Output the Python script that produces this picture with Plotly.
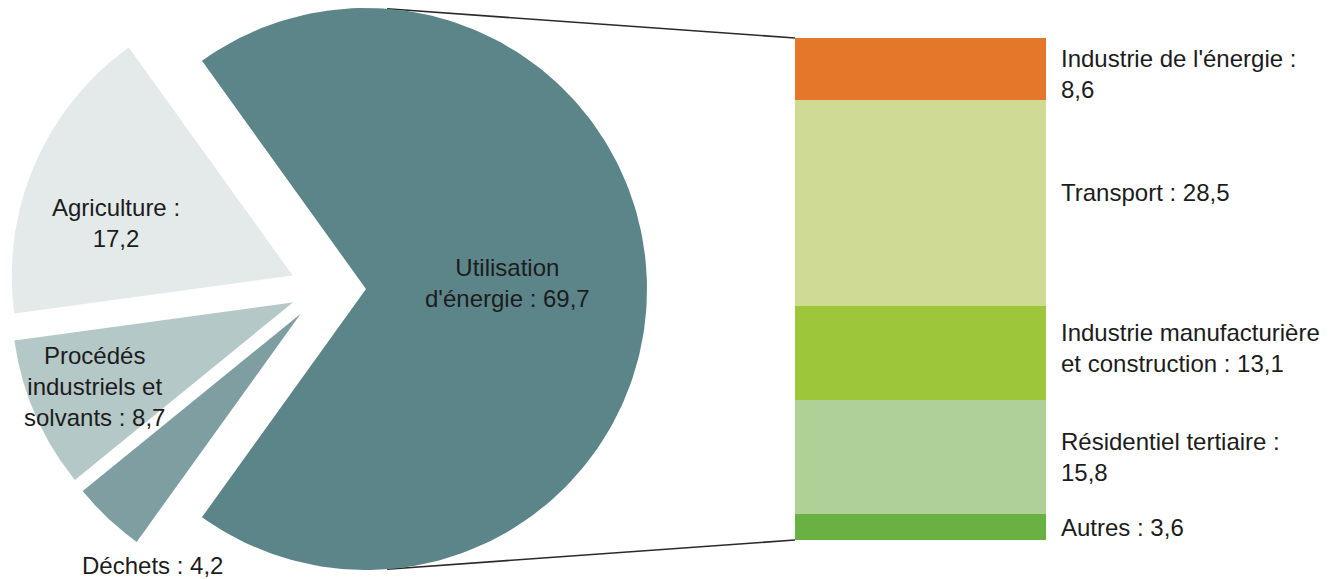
import numpy as np
import plotly.graph_objects as go

# ---------------- data ----------------
pie_categories = ["Utilisation d'énergie", "Agriculture",
                  "Procédés industriels et solvants", "Déchets"]
pie_values = [69.7, 17.2, 8.7, 4.2]

bar_categories = ["Industrie de l'énergie", "Transport",
                  "Industrie manufacturière et construction",
                  "Résidentiel tertiaire", "Autres"]
bar_values = [8.6, 28.5, 13.1, 15.8, 3.6]

# ---------------- styles / layout ----------------
pie_colors = ["#5c858a", "#e4eaea", "#b4c8c7", "#7e9ea2"]
bar_colors = ["#e5772a", "#cfdb95", "#9dc63a", "#afd096", "#69b142"]

pie_label_fmt = ["Utilisation<br>d'énergie : {}", "Agriculture :<br>{}",
                 "Procédés<br>industriels et<br>solvants : {}", "Déchets : {}"]
pie_label_pos = [(507, 283), (116, 223), (94, 386), (152, 565)]

bar_label_fmt = ["Industrie de l'énergie :<br>{}", "Transport : {}",
                 "Industrie manufacturière<br>et construction : {}",
                 "Résidentiel tertiaire :<br>{}", "Autres : {}"]
bar_label_yshift = [-5, 10, 5, 0, 0]

W, H = 1331, 579
CX, CY, R = 366, 289, 281          # pie centre / radius (px)
GROUP_SHIFT = 42                   # shift of the small-slice group (px)
EXPLODE = 34                       # explosion of each small slice (px)
BAR_LEFT, BAR_RIGHT, BAR_TOP, BAR_BOTTOM = 795, 1046, 38, 540
CONNECTOR_ANGLE = 85.7
FONT = "Liberation Sans, Arial, sans-serif"
TEXT_COLOR = "#1c1c1c"
FONT_SIZE = 24


def fmt(v):
    return f"{v:.1f}".replace(".", ",")


def pdir(deg):
    t = np.radians(deg)
    return np.cos(t), -np.sin(t)   # screen coordinates (y down)


fig = go.Figure()

# ---------------- connector lines ----------------
bar_total = sum(bar_values)
for sgn, by in ((1, BAR_TOP), (-1, BAR_BOTTOM)):
    dx, dy = pdir(sgn * CONNECTOR_ANGLE)
    fig.add_trace(go.Scatter(
        x=[CX + R * dx, BAR_LEFT], y=[CY + R * dy, by], mode="lines",
        line=dict(color="#2a2a2a", width=1.6), hoverinfo="skip",
        xaxis="x", yaxis="y"))

# ---------------- exploded pie (wedges computed from the values) ----------------
total = sum(pie_values)
span0 = 360 * pie_values[0] / total
starts = [-span0 / 2]
for v in pie_values[:-1]:
    starts.append(starts[-1] + 360 * v / total)
group_mid = (span0 / 2 + (360 - span0 / 2)) / 2

for i, (name, v, col) in enumerate(zip(pie_categories, pie_values, pie_colors)):
    a0 = starts[i]
    a1 = a0 + 360 * v / total
    ax, ay = CX, CY
    if i > 0:
        gx, gy = pdir(group_mid)
        ex, ey = pdir((a0 + a1) / 2)
        ax += GROUP_SHIFT * gx + EXPLODE * ex
        ay += GROUP_SHIFT * gy + EXPLODE * ey
    th = np.linspace(a0, a1, 200)
    dx, dy = pdir(th)
    xs = np.concatenate([[ax], ax + R * dx, [ax]])
    ys = np.concatenate([[ay], ay + R * dy, [ay]])
    fig.add_trace(go.Scatter(
        x=xs, y=ys, mode="lines", fill="toself", fillcolor=col,
        line=dict(width=0, color=col), name=name,
        hovertext=f"{name} : {fmt(v)}", hoverinfo="text",
        xaxis="x", yaxis="y"))

# ---------------- stacked bar ----------------
for name, v, col in reversed(list(zip(bar_categories, bar_values, bar_colors))):
    fig.add_trace(go.Bar(
        x=[0], y=[v], width=1, marker=dict(color=col, line=dict(width=0)),
        name=name, hovertemplate=f"{name} : {fmt(v)}<extra></extra>",
        xaxis="x2", yaxis="y2"))

# ---------------- labels ----------------
annotations = []
for v, f, (lx, ly) in zip(pie_values, pie_label_fmt, pie_label_pos):
    annotations.append(dict(
        x=lx, y=ly, xref="x", yref="y", text=f.format(fmt(v)),
        showarrow=False, xanchor="center", yanchor="middle", align="center",
        font=dict(family=FONT, size=FONT_SIZE, color=TEXT_COLOR)))

cum = np.cumsum(list(reversed(bar_values)))
mids = list(reversed([c - v / 2 for c, v in zip(cum, reversed(bar_values))]))
for v, f, m, ys in zip(bar_values, bar_label_fmt, mids, bar_label_yshift):
    annotations.append(dict(
        x=0.5, y=m, xref="x2", yref="y2", text=f.format(fmt(v)),
        showarrow=False, xanchor="left", yanchor="middle", align="left",
        xshift=13, yshift=ys,
        font=dict(family=FONT, size=FONT_SIZE, color=TEXT_COLOR)))

scale = (BAR_BOTTOM - BAR_TOP) / bar_total
y2_range = [(BAR_BOTTOM - H) / scale, BAR_BOTTOM / scale]

hidden = dict(visible=False, showgrid=False, zeroline=False, fixedrange=True)
fig.update_layout(
    width=W, height=H, margin=dict(l=0, r=0, t=0, b=0),
    paper_bgcolor="white", plot_bgcolor="white",
    showlegend=False, barmode="stack", bargap=0,
    font=dict(family=FONT, size=FONT_SIZE, color=TEXT_COLOR),
    xaxis=dict(range=[0, W], domain=[0, 1], **hidden),
    yaxis=dict(range=[H, 0], domain=[0, 1], **hidden),
    xaxis2=dict(range=[-0.5, 0.5], domain=[BAR_LEFT / W, BAR_RIGHT / W],
                anchor="y2", **hidden),
    yaxis2=dict(range=y2_range, domain=[0, 1], anchor="x2", **hidden),
    annotations=annotations,
)

# remove the browser's default 8px body margin so the figure fills the window
fig.write_html(
    "out.html",
    config={"displayModeBar": False},
    post_script="document.body.style.margin='0';"
                "document.body.style.overflow='hidden';",
)
